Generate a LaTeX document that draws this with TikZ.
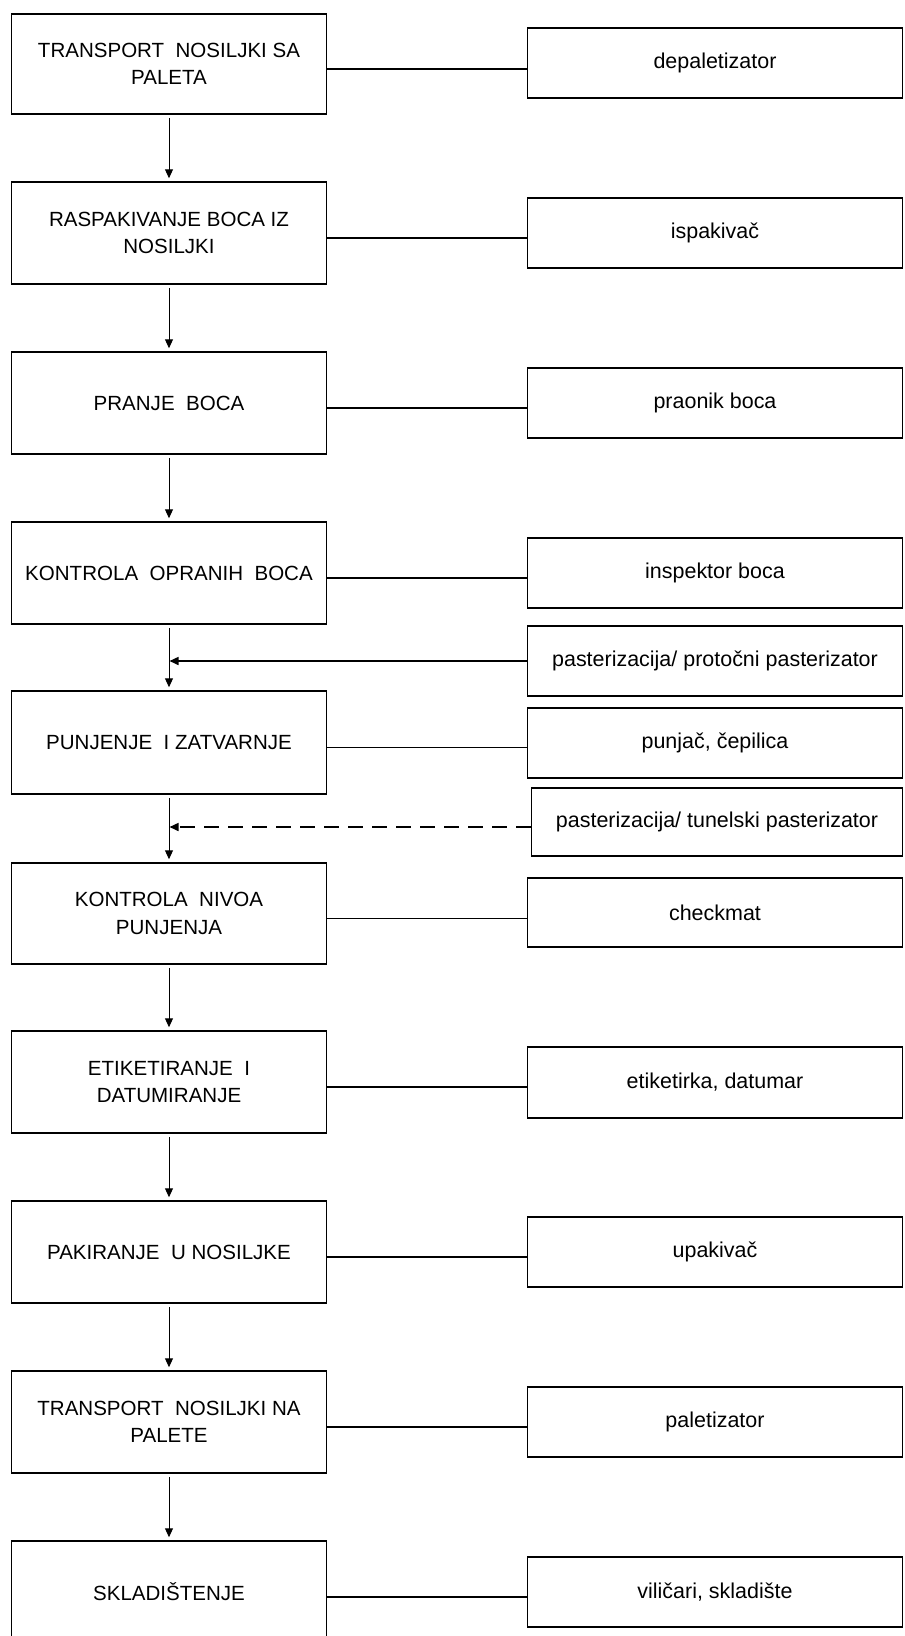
\documentclass[tikz,border=0pt]{standalone}
\usepackage{fontspec}
\setmainfont{Liberation Sans}
\usetikzlibrary{arrows.meta}
\tikzset{
  lbox/.style={draw, line width=1.125pt, minimum width=236.25pt, minimum height=76.5pt,
    inner sep=0pt, align=center, font=\fontsize{15.4}{20.5}\selectfont},
  rbox/.style={draw, line width=1.125pt, minimum width=281.25pt, minimum height=52.5pt,
    inner sep=0pt, align=center, font=\fontsize{16.1}{21}\selectfont},
  flow/.style={line width=0.75pt, -{Triangle[length=6.75pt,width=6pt]},
    shorten <=2.25pt, shorten >=2.25pt},
  link/.style={line width=1.2pt},
  feed/.style={line width=1.2pt, -{Triangle[length=6.75pt,width=6pt]}, shorten >=0.4pt},
  dfeed/.style={feed, dash pattern=on 11.25pt off 6.75pt}
}
\begin{document}
\begin{tikzpicture}[x=0.75pt,y=-0.75pt]
\useasboundingbox (0,0) rectangle (904,1636);
\clip (0,0) rectangle (904,1636);
% left process boxes
\node[lbox, minimum height=75pt] (l1) at (169,64) {TRANSPORT \ NOSILJKI SA\\PALETA};
\node[lbox] (l2) at (169,233) {RASPAKIVANJE BOCA IZ\\NOSILJKI};
\node[lbox] (l3) at (169,403) {PRANJE \ BOCA};
\node[lbox] (l4) at (169,573) {KONTROLA \ OPRANIH \ BOCA};
\node[lbox, minimum height=77.25pt] (l5) at (169,742.5) {PUNJENJE \ I ZATVARNJE};
\node[lbox, minimum height=75.75pt] (l6) at (169,913.5) {KONTROLA \ NIVOA\\PUNJENJA};
\node[lbox] (l7) at (169,1082) {ETIKETIRANJE \ I\\DATUMIRANJE};
\node[lbox] (l8) at (169,1252) {PAKIRANJE \ U NOSILJKE};
\node[lbox] (l9) at (169,1422) {TRANSPORT \ NOSILJKI NA\\PALETE};
\node[lbox] (l10) at (169,1592) {SKLADIŠTENJE};
% right equipment boxes
\node[rbox] (r1) at (715,63) {depaletizator};
\node[rbox] (r2) at (715,233) {ispakivač};
\node[rbox] (r3) at (715,403) {praonik boca};
\node[rbox] (r4) at (715,573) {inspektor boca};
\node[rbox] (p1) at (715,661) {pasterizacija/ protočni pasterizator};
\node[rbox] (r5) at (715,743) {punjač, čepilica};
\node[rbox, minimum width=278.25pt, minimum height=51pt] (p2) at (717,822) {pasterizacija/ tunelski pasterizator};
\node[rbox, minimum height=51.75pt] (r6) at (715,912.5) {checkmat};
\node[rbox, minimum height=53.25pt] (r7) at (715,1082.5) {etiketirka, datumar};
\node[rbox] (r8) at (715,1252) {upakivač};
\node[rbox] (r9) at (715,1422) {paletizator};
\node[rbox] (r10) at (715,1592) {viličari, skladište};
% flow arrows
\foreach \a/\b in {l1/l2,l2/l3,l3/l4,l4/l5,l5/l6,l6/l7,l7/l8,l8/l9,l9/l10}
  \draw[flow] (\a.south) -- (\b.north);
% links
\foreach \a/\b in {l1/r1,l2/r2,l3/r3,l4/r4,l5/r5,l6/r6,l7/r7,l8/r8,l9/r9,l10/r10}
  \draw[link] ([yshift=-3.75pt]\a.east) -- ([yshift=-3.75pt]\a.east -| \b.west);
% pasteurisation feeders
\draw[feed] (p1.west) -- (p1.west -| l4.south);
\draw[dfeed] ([yshift=-3.75pt]p2.west) -- ([yshift=-3.75pt]p2.west -| l5.south);
\end{tikzpicture}
\end{document}
